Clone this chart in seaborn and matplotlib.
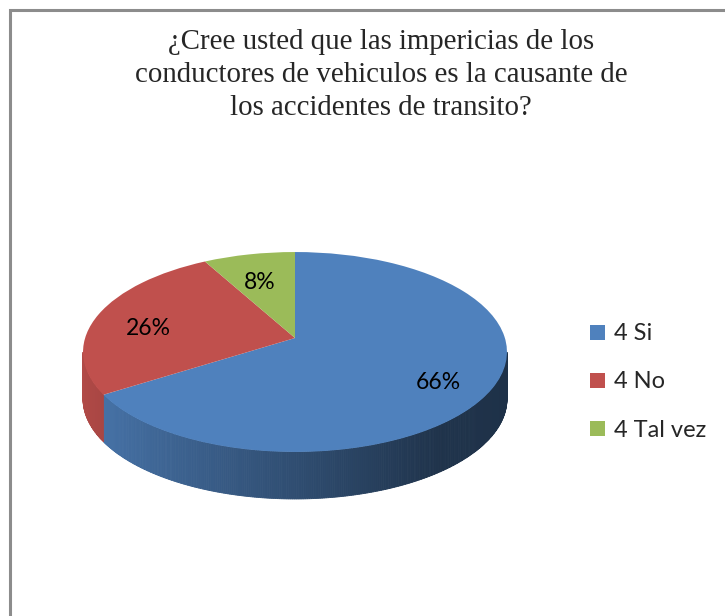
import numpy as np
import matplotlib
matplotlib.use("Agg")
import matplotlib.pyplot as plt
import seaborn as sns
from matplotlib.patches import Rectangle, Patch
from matplotlib.transforms import Transform
import matplotlib.colors as mcolors

# ---- data ----
categories = ["4 Si", "4 No", "4 Tal vez"]
values = [66, 26, 8]
colors = ["#4f81bd", "#c0504d", "#9bbb59"]
title = "¿Cree usted que las impericias de los\nconductores de vehiculos es la causante de\nlos accidentes de transito?"

sns.set_style("white")
plt.rcParams["font.family"] = ["Lato", "DejaVu Sans"]

W, H = 725, 616
fig = plt.figure(figsize=(W / 100, H / 100), dpi=100)
fig.patch.set_facecolor("white")

# pie geometry in pixels (ellipse centre, semi-axes, thickness)
cx, cy, a, b, depth = 295, 352, 212, 100, 47
K, A, B, Y0 = 0.14, 0.99, 0.98, 0.14   # perspective tilt


def persp(xy):
    xy = np.asarray(xy, dtype=float)
    u, v = xy[..., 0], xy[..., 1]
    s = 1.0 / (1.0 + K * v)
    return np.stack([A * u * s, Y0 + B * v * s], axis=-1)


class Persp(Transform):
    input_dims = output_dims = 2
    is_separable = False
    has_inverse = False

    def transform_non_affine(self, values):
        return persp(values)


ax = fig.add_axes([0, 0, 1, 1])
pal = sns.color_palette(colors)
wedges, texts, autotexts = ax.pie(
    values, colors=pal, startangle=90, counterclock=False,
    autopct="%1.0f%%", pctdistance=0.74, radius=1,
    wedgeprops=dict(linewidth=0), textprops=dict(fontsize=16.5, color="black"))
P = Persp()
for w in wedges:
    w.set_transform(P + ax.transData)
    w.set_zorder(5)
for t in autotexts:
    px_, py_ = persp(np.array(t.get_position()))
    t.set_position((px_, py_ - 0.08))
    t.set_zorder(10)
ax.set_aspect("auto")
ax.set_xlim((0 - cx) / a, (W - cx) / a)
ax.set_ylim(-(H - cy) / b, cy / b)
ax.axis("off")

# 3D side band built from the wedge angles
d = depth / b
lo_vis = 180 + np.degrees(np.arcsin(K))
hi_vis = 360 - np.degrees(np.arcsin(K))


def shade(x):
    return np.interp(x, [-1, 0, 0.6, 1], [0.93, 0.6, 0.4, 0.38])


for w, col in zip(wedges, colors):
    t1, t2 = sorted([w.theta1, w.theta2])
    base = np.array(mcolors.to_rgb(col))
    for off in (0, 360, -360):
        lo, hi = max(t1 + off, lo_vis), min(t2 + off, hi_vis)
        if hi <= lo:
            continue
        edges = np.linspace(lo, hi, max(2, int((hi - lo) * 2) + 1))
        for e0, e1 in zip(edges[:-1], edges[1:]):
            th = np.radians(np.linspace(e0, e1, 4))
            top = persp(np.stack([np.cos(th), np.sin(th)], axis=-1))
            px = np.concatenate([top[:, 0], top[::-1, 0]])
            py = np.concatenate([top[:, 1], top[::-1, 1] - d])
            c = np.clip(base * shade(np.cos(np.radians((e0 + e1) / 2))), 0, 1)
            ax.fill(px, py, color=c, lw=0.6, ec=c, zorder=2)

# title
fig.text(381 / W, 1 - 75 / H, title, ha="center", va="center",
         fontsize=20.8, family=["Liberation Serif"], linespacing=1.36)

# legend
handles = [Patch(facecolor=c, edgecolor="none") for c in pal]
leg = ax.legend(handles, categories, loc="center left",
                bbox_to_anchor=(569 / W, 1 - 382 / H), bbox_transform=fig.transFigure,
                frameon=False, fontsize=17, handlelength=0.63, handleheight=0.6,
                labelspacing=1.15, handletextpad=0.38)

# outer border
fig.patches.append(Rectangle((10 / W, -0.05), 1.1, 1 - 10 / H + 0.05,
                             transform=fig.transFigure, fill=False,
                             ec="#8c8c8c", lw=2.2))

fig.savefig("out.png", dpi=100)
